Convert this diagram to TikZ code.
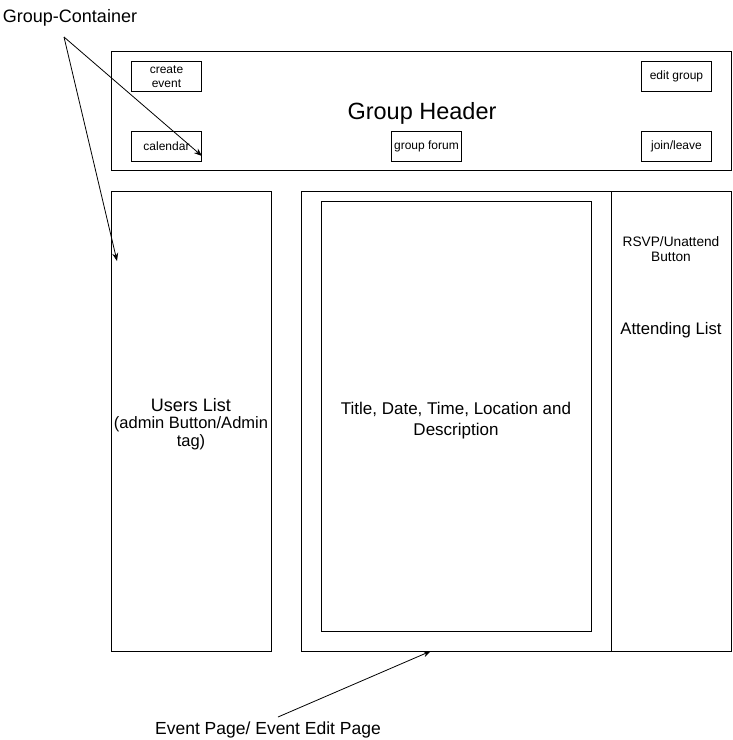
\documentclass[tikz,border=0pt]{standalone}
\usepackage{fontspec}
\setmainfont{Liberation Sans}
\usetikzlibrary{arrows.meta}
\begin{document}
\begin{tikzpicture}[x=1pt,y=-1pt,
  box/.style={draw=black,line width=1pt,inner sep=0pt,anchor=north west},
  btn/.style={box,font=\fontsize{12}{13.5}\selectfont,align=center,minimum width=70pt,minimum height=30pt},
  lbl/.style={inner sep=0pt,align=center},
  arr/.style={draw=black,line width=0.8pt,-{Stealth[length=8pt,width=6pt]}}]
\useasboundingbox (0,0) rectangle (733,740);
% header
\node[box,minimum width=620pt,minimum height=119pt] (header) at (111,51) {};
\node[lbl,font=\fontsize{23.5}{26}\selectfont] (htext) at (422,113) {Group Header};
\node[btn] (create) at (131,61) {create\\event};
\node[btn] (calendar) at (131,131) {calendar};
\node[btn] (forum) at (391,131) {group forum};
\node[btn] (edit) at (641,61) {edit group};
\node[btn] (join) at (641,131) {join/leave};
% users list
\node[box,minimum width=160pt,minimum height=460pt] (users) at (111,191) {};
\node[lbl,font=\fontsize{18}{20}\selectfont] (utext) at (191,405) {Users List};
\node[lbl,font=\fontsize{16.5}{18}\selectfont] (utext2) at (191,433) {(admin Button/Admin\\tag)};
% event page
\node[box,minimum width=310pt,minimum height=460pt] (event) at (301,191) {};
\node[box,minimum width=270pt,minimum height=430pt] (inner) at (321,201) {};
\node[lbl,font=\fontsize{17}{21}\selectfont] (ttext) at (456,421) {Title, Date, Time, Location and\\Description};
\node[box,minimum width=120pt,minimum height=460pt] (side) at (611,191) {};
\node[lbl,font=\fontsize{13.7}{15.5}\selectfont] (rsvp) at (671,249) {RSVP/Unattend\\Button};
\node[lbl,font=\fontsize{16.7}{19}\selectfont] (attend) at (671,330) {Attending List};
% labels
\node[lbl,font=\fontsize{18}{20}\selectfont] (gc) at (70,18) {Group-Container};
\node[lbl,font=\fontsize{17.5}{20}\selectfont] (ep) at (268,730) {Event Page/ Event Edit Page};
% arrows
\coordinate (gcs) at (64,37);
\coordinate (cal-end) at (202,156);
\coordinate (usr-end) at (117,261);
\coordinate (eps) at (278,717);
\coordinate (ev-end) at (431,651);
\draw[arr] (gcs) -- (cal-end);
\draw[arr] (gcs) -- (usr-end);
\draw[arr] (eps) -- (ev-end);
\end{tikzpicture}
\end{document}
